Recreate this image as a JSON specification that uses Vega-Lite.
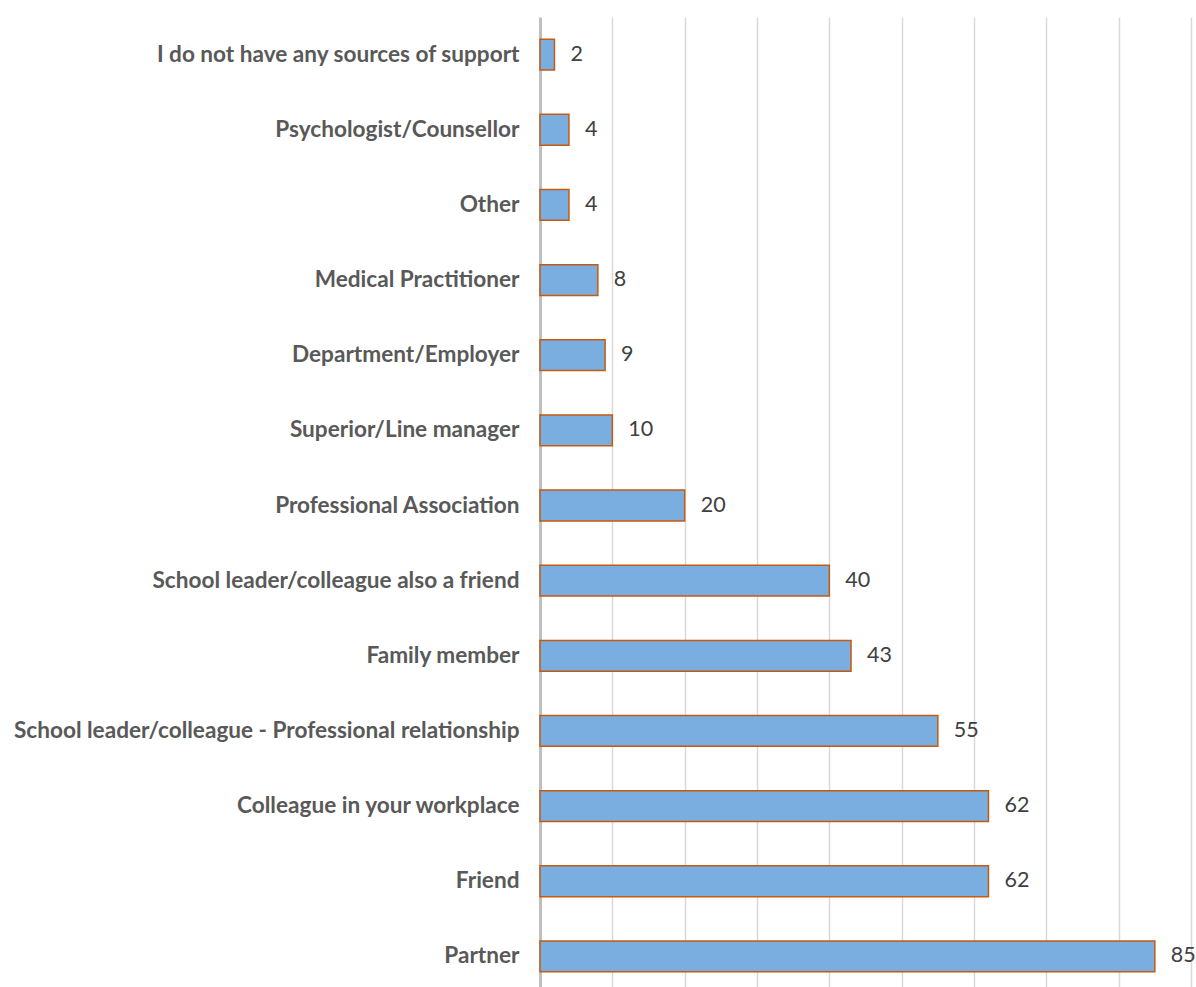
{
  "$schema": "https://vega.github.io/schema/vega-lite/v6.json",
  "autosize": "none",
  "width": 651,
  "height": 977,
  "padding": {"left": 540, "top": 17, "right": 5, "bottom": 0},
  "background": "white",
  "config": {"view": {"stroke": null}},
  "data": {
    "values": [
      {"source": "I do not have any sources of support", "count": 2},
      {"source": "Psychologist/Counsellor", "count": 4},
      {"source": "Other", "count": 4},
      {"source": "Medical Practitioner", "count": 8},
      {"source": "Department/Employer", "count": 9},
      {"source": "Superior/Line manager", "count": 10},
      {"source": "Professional Association", "count": 20},
      {"source": "School leader/colleague also a friend", "count": 40},
      {"source": "Family member", "count": 43},
      {"source": "School leader/colleague - Professional relationship", "count": 55},
      {"source": "Colleague in your workplace", "count": 62},
      {"source": "Friend", "count": 62},
      {"source": "Partner", "count": 85}
    ]
  },
  "encoding": {
    "y": {
      "field": "source",
      "type": "nominal",
      "sort": null,
      "scale": {"paddingInner": 0.59, "paddingOuter": 0.295},
      "axis": {
        "title": null,
        "ticks": false,
        "domainColor": "#bfbfbf",
        "domainWidth": 3,
        "labelFont": "Lato",
        "labelFontWeight": "bold",
        "labelFontSize": 22.6,
        "labelColor": "#595959",
        "labelPadding": 21,
        "labelLimit": 600
      }
    },
    "x": {
      "field": "count",
      "type": "quantitative",
      "scale": {"domain": [0, 90], "nice": false},
      "axis": {
        "title": null,
        "labels": false,
        "ticks": false,
        "domain": false,
        "values": [0, 10, 20, 30, 40, 50, 60, 70, 80, 90],
        "grid": true,
        "gridColor": "#d9d9d9",
        "gridWidth": 1.5
      }
    }
  },
  "layer": [
    {
      "mark": {"type": "bar", "fill": "#7aaee0", "stroke": "#c55a11", "strokeWidth": 1.5}
    },
    {
      "mark": {"type": "text", "align": "left", "baseline": "middle", "dx": 16, "font": "Lato", "fontSize": 21.5, "color": "#404040"},
      "encoding": {"text": {"field": "count", "type": "quantitative"}}
    }
  ]
}
